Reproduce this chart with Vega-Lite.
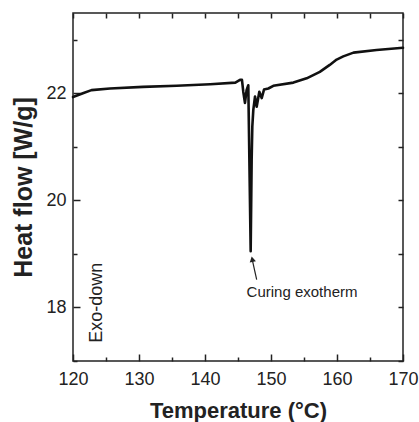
{
  "$schema": "https://vega.github.io/schema/vega-lite/v6.json",
  "width": 330,
  "height": 348,
  "autosize": "none",
  "padding": {"left": 73, "top": 13, "right": 16, "bottom": 61},
  "background": "white",
  "config": {
    "view": {"stroke": "#222", "strokeWidth": 1.5},
    "font": "Liberation Sans"
  },
  "datasets": {
    "curve": [
      {"T": 120.0, "H": 21.93}, {"T": 121.5, "H": 22.0}, {"T": 122.8, "H": 22.06}, {"T": 125.6, "H": 22.09},
      {"T": 130.6, "H": 22.12}, {"T": 135.7, "H": 22.14}, {"T": 140.8, "H": 22.17}, {"T": 144.6, "H": 22.2},
      {"T": 145.3, "H": 22.25}, {"T": 145.6, "H": 22.25}, {"T": 145.8, "H": 22.03}, {"T": 146.06, "H": 21.82},
      {"T": 146.3, "H": 22.06}, {"T": 146.56, "H": 22.15}, {"T": 146.92, "H": 19.05}, {"T": 147.07, "H": 20.76},
      {"T": 147.17, "H": 21.38}, {"T": 147.32, "H": 21.69}, {"T": 147.58, "H": 21.94}, {"T": 147.83, "H": 21.75},
      {"T": 148.23, "H": 22.03}, {"T": 148.59, "H": 21.91}, {"T": 148.94, "H": 22.07}, {"T": 149.6, "H": 22.09},
      {"T": 150.35, "H": 22.14}, {"T": 153.4, "H": 22.2}, {"T": 155.4, "H": 22.28}, {"T": 157.4, "H": 22.4},
      {"T": 158.9, "H": 22.53}, {"T": 159.95, "H": 22.63}, {"T": 160.95, "H": 22.69}, {"T": 162.5, "H": 22.76},
      {"T": 166.0, "H": 22.81}, {"T": 170.0, "H": 22.85}
    ],
    "notes": [
      {"T": 146.3, "H": 18.19, "label": "Curing exotherm"}
    ],
    "exo": [
      {"T": 123.6, "H": 18.09, "label": "Exo-down"}
    ],
    "arrow": [
      {"T": 147.83, "H": 18.52, "T2": 147.15, "H2": 18.9}
    ],
    "head": [
      {"T": 147.16, "H": 18.9}
    ]
  },
  "layer": [
    {
      "data": {"name": "curve"},
      "mark": {"type": "line", "color": "#111", "strokeWidth": 2.6, "strokeJoin": "round", "strokeCap": "round"},
      "encoding": {
        "x": {"field": "T", "type": "quantitative", "scale": {"domain": [120, 170], "nice": false},
          "axis": {"orient": "bottom", "offset": -7, "tickSize": 7, "tickColor": "#222", "tickWidth": 1.5, "domain": false, "grid": false,
            "title": "Temperature (°C)", "titleFont": "Liberation Sans", "titleFontSize": 22, "titleFontWeight": "bold", "titleColor": "#222",
            "titleBaseline": "alphabetic", "titleY": 63,
            "values": [120, 130, 140, 150, 160, 170],
            "labelPadding": 9, "labelFont": "Liberation Sans", "labelFontSize": 18, "labelColor": "#222", "labelFlush": false, "labelOverlap": false}},
        "y": {"field": "H", "type": "quantitative", "scale": {"domain": [17, 23.5], "nice": false, "zero": false},
          "axis": {"orient": "left", "offset": -7, "tickSize": 7, "tickColor": "#222", "tickWidth": 1.5, "domain": false, "grid": false,
            "title": "Heat flow [W/g]", "titleFont": "Liberation Sans", "titleFontSize": 25, "titleFontWeight": "bold", "titleColor": "#222",
            "titleBaseline": "alphabetic", "titleX": -49, "titleY": 174, "titleAngle": -90,
            "values": [18, 20, 22],
            "labelPadding": 7, "labelFont": "Liberation Sans", "labelFontSize": 18, "labelColor": "#222", "labelFlush": false, "labelOverlap": false}}
      }
    },
    {
      "data": {"name": "curve"},
      "mark": {"type": "line", "opacity": 0},
      "encoding": {
        "x": {"field": "T", "type": "quantitative",
          "axis": {"orient": "bottom", "offset": -4, "tickSize": 4, "tickColor": "#222", "tickWidth": 1.5, "domain": false, "grid": false,
            "title": null, "labels": false, "values": [125, 135, 145, 155, 165]}},
        "y": {"field": "H", "type": "quantitative",
          "axis": {"orient": "left", "offset": -4, "tickSize": 4, "tickColor": "#222", "tickWidth": 1.5, "domain": false, "grid": false,
            "title": null, "labels": false, "values": [17, 19, 21, 23]}}
      }
    },
    {
      "data": {"name": "curve"},
      "mark": {"type": "line", "opacity": 0},
      "encoding": {
        "x": {"field": "T", "type": "quantitative",
          "axis": {"orient": "top", "offset": -5, "tickSize": 5, "tickColor": "#222", "tickWidth": 1.5, "domain": false, "grid": false,
            "title": null, "labels": false, "values": [120, 125, 130, 135, 140, 145, 150, 155, 160, 165, 170]}},
        "y": {"field": "H", "type": "quantitative",
          "axis": {"orient": "right", "offset": -5, "tickSize": 5, "tickColor": "#222", "tickWidth": 1.5, "domain": false, "grid": false,
            "title": null, "labels": false, "values": [17, 18, 19, 20, 21, 22, 23]}}
      }
    },
    {
      "data": {"name": "notes"},
      "mark": {"type": "text", "align": "left", "baseline": "alphabetic", "fontSize": 15, "color": "#222", "font": "Liberation Sans"},
      "encoding": {
        "x": {"field": "T", "type": "quantitative", "axis": null},
        "y": {"field": "H", "type": "quantitative", "axis": null},
        "text": {"field": "label"}
      }
    },
    {
      "data": {"name": "exo"},
      "mark": {"type": "text", "align": "center", "baseline": "middle", "angle": 270, "fontSize": 18, "color": "#222", "font": "Liberation Sans"},
      "encoding": {
        "x": {"field": "T", "type": "quantitative", "axis": null},
        "y": {"field": "H", "type": "quantitative", "axis": null},
        "text": {"field": "label"}
      }
    },
    {
      "data": {"name": "arrow"},
      "mark": {"type": "rule", "color": "#222", "strokeWidth": 1.2},
      "encoding": {
        "x": {"field": "T", "type": "quantitative", "axis": null},
        "y": {"field": "H", "type": "quantitative", "axis": null},
        "x2": {"field": "T2"},
        "y2": {"field": "H2"}
      }
    },
    {
      "data": {"name": "head"},
      "mark": {"type": "point", "shape": "triangle-up", "filled": true, "color": "#222", "opacity": 1, "size": 40, "angle": -12},
      "encoding": {
        "x": {"field": "T", "type": "quantitative", "axis": null},
        "y": {"field": "H", "type": "quantitative", "axis": null}
      }
    }
  ],
  "resolve": {"axis": {"x": "independent", "y": "independent"}}
}
